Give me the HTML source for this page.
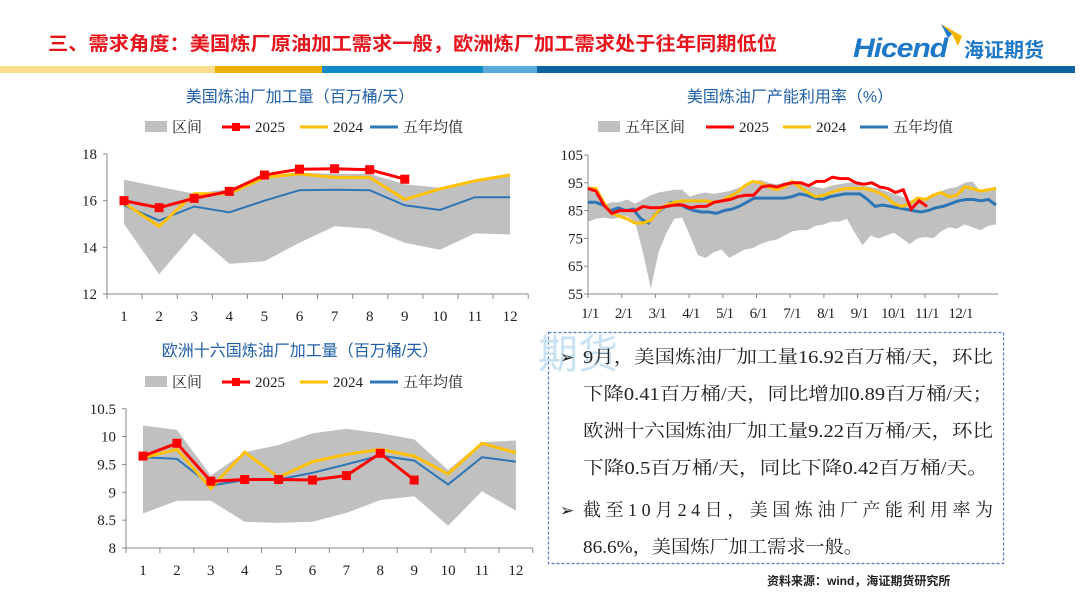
<!DOCTYPE html>
<html><head><meta charset="utf-8"><style>
html,body{margin:0;padding:0;background:#fff;}
body{width:1080px;height:607px;overflow:hidden;position:relative;font-family:"Liberation Serif","Noto Serif CJK SC",serif;}
svg text{font-family:"Liberation Serif","Noto Serif CJK SC",serif;}
.t{font-family:"Liberation Sans","Noto Sans CJK SC",sans-serif;}
</style></head><body>
<svg id="s" width="1080" height="607" xmlns="http://www.w3.org/2000/svg">
<text x="48" y="50" class="t" font-size="19" font-weight="bold" fill="#e8141c" textLength="729" lengthAdjust="spacingAndGlyphs">三、需求角度：美国炼厂原油加工需求一般，欧洲炼厂加工需求处于往年同期低位</text>
<rect x="0" y="66" width="215" height="7" fill="#fadc8c"/>
<rect x="215" y="66" width="107" height="7" fill="#f0b000"/>
<rect x="322" y="66" width="161" height="7" fill="#0f8cc8"/>
<rect x="483" y="66" width="54" height="7" fill="#5aaadc"/>
<rect x="537" y="66" width="538" height="7" fill="#0a64a0"/>
<polygon points="941,24 962,36 958,46 952,34" fill="#f5b400"/>
<polygon points="941,24 952,34 948,38" fill="#1e78c8"/>
<text x="853" y="57" class="t" font-size="27" font-weight="bold" font-style="italic" fill="#1e78c8" letter-spacing="-1" textLength="94" lengthAdjust="spacingAndGlyphs">Hicend</text>
<text x="964" y="57" class="t" font-size="20" font-weight="bold" fill="#1e78c8">海证期货</text>
<g id="g"></g>
<rect x="548.5" y="332.5" width="455" height="231" fill="none" stroke="#4a7cc8" stroke-width="1.2" stroke-dasharray="3,2"/>
<text x="538" y="368" class="t" font-size="40" fill="#c8e2f4">期货</text>
<g class="t" font-size="18" fill="#222">
<text x="560" y="363" font-size="17">➢</text>
<text x="583" y="363" textLength="410" lengthAdjust="spacingAndGlyphs">9月，美国炼油厂加工量16.92百万桶/天，环比</text>
<text x="583" y="400" textLength="410" lengthAdjust="spacingAndGlyphs">下降0.41百万桶/天，同比增加0.89百万桶/天；</text>
<text x="583" y="437" textLength="410" lengthAdjust="spacingAndGlyphs">欧洲十六国炼油厂加工量9.22百万桶/天，环比</text>
<text x="583" y="474" textLength="405" lengthAdjust="spacingAndGlyphs">下降0.5百万桶/天，同比下降0.42百万桶/天。</text>
<text x="560" y="516" font-size="17">➢</text>
<text x="583" y="516" textLength="410">截至10月24日，美国炼油厂产能利用率为</text>
<text x="583" y="553" textLength="280" lengthAdjust="spacingAndGlyphs">86.6%，美国炼厂加工需求一般。</text>
</g>
<text x="767" y="585" class="t" font-size="12" font-weight="bold" fill="#222">资料来源：wind，海证期货研究所</text>
</svg>
<script>
var g=document.getElementById('g'),h='';
function P(a){return a.map(function(p){return p[0].toFixed(1)+','+p[1].toFixed(1)}).join(' ');}
function legend(x,y,labels){var o='';var xs=labels.x;
o+='<rect x="'+xs[0]+'" y="'+(y-6)+'" width="22" height="11" fill="#c0c0c0"/><text x="'+(xs[0]+27)+'" y="'+(y+5)+'" font-size="15" fill="#222">'+labels.t[0]+'</text>';
o+='<line x1="'+xs[1]+'" x2="'+(xs[1]+28)+'" y1="'+y+'" y2="'+y+'" stroke="#f00" stroke-width="3"/><rect x="'+(xs[1]+10)+'" y="'+(y-4)+'" width="8" height="8" fill="#f00"/><text x="'+(xs[1]+33)+'" y="'+(y+5)+'" font-size="15" fill="#222">2025</text>';
o+='<line x1="'+xs[2]+'" x2="'+(xs[2]+28)+'" y1="'+y+'" y2="'+y+'" stroke="#ffc000" stroke-width="3"/><text x="'+(xs[2]+33)+'" y="'+(y+5)+'" font-size="15" fill="#222">2024</text>';
o+='<line x1="'+xs[3]+'" x2="'+(xs[3]+28)+'" y1="'+y+'" y2="'+y+'" stroke="#2e75b6" stroke-width="3"/><text x="'+(xs[3]+33)+'" y="'+(y+5)+'" font-size="15" fill="#222">五年均值</text>';
return o;}
function monthly(c){var o='';
var X=function(i){return c.x0+i*c.dx};var Y=function(v){return c.y0-(v-c.vmin)*c.k};
var band=c.up.map(function(v,i){return [X(i),Y(v)]}).concat(c.lo.map(function(v,i){return [X(i),Y(v)]}).reverse());
o+='<polygon points="'+P(band)+'" fill="#c0c0c0"/>';
o+='<line x1="'+c.ax+'" x2="'+c.ax+'" y1="'+Y(c.vmax)+'" y2="'+c.y0+'" stroke="#888"/>';
o+='<line x1="'+c.ax+'" x2="'+(c.ax+12*c.dx)+'" y1="'+c.y0+'" y2="'+c.y0+'" stroke="#888"/>';
for(var i=0;i<=12;i++)o+='<line x1="'+(c.ax+i*c.dx)+'" x2="'+(c.ax+i*c.dx)+'" y1="'+c.y0+'" y2="'+(c.y0+5)+'" stroke="#888"/>';
for(var i=0;i<12;i++)o+='<text x="'+X(i)+'" y="'+(c.y0+27)+'" font-size="15" text-anchor="middle" fill="#222">'+(i+1)+'</text>';
c.ticks.forEach(function(t){o+='<line x1="'+(c.ax-4)+'" x2="'+c.ax+'" y1="'+Y(t[0])+'" y2="'+Y(t[0])+'" stroke="#888"/><text x="'+(c.ax-10)+'" y="'+(Y(t[0])+5)+'" font-size="15" text-anchor="end" fill="#222">'+t[1]+'</text>'});
o+='<polyline points="'+P(c.avg.map(function(v,i){return [X(i),Y(v)]}))+'" fill="none" stroke="#2e75b6" stroke-width="2"/>';
o+='<polyline points="'+P(c.y24.map(function(v,i){return [X(i),Y(v)]}))+'" fill="none" stroke="#ffc000" stroke-width="3"/>';
o+='<polyline points="'+P(c.y25.map(function(v,i){return [X(i),Y(v)]}))+'" fill="none" stroke="#f00" stroke-width="3"/>';
c.y25.forEach(function(v,i){o+='<rect x="'+(X(i)-4.5)+'" y="'+(Y(v)-4.5)+'" width="9" height="9" fill="#f00"/>'});
return o;}
h+='<text x="300" y="102" text-anchor="middle" font-size="16" fill="#1f5fa8" class="t">美国炼油厂加工量（百万桶/天）</text>';
h+=legend(0,127,{x:[145,222,300,370],t:['区间']});
h+=monthly({x0:124,dx:35.1,ax:107,y0:294,vmin:12,vmax:18,k:23.33,ticks:[[12,'12'],[14,'14'],[16,'16'],[18,'18']],
up:[16.9,16.6,16.3,16.5,17.0,17.2,17.15,17.15,16.7,16.55,16.9,17.1],
lo:[15.0,12.85,14.6,13.3,13.4,14.2,14.9,14.8,14.2,13.9,14.6,14.55],
y25:[16.0,15.7,16.1,16.4,17.1,17.35,17.37,17.33,16.92],
y24:[15.9,14.9,16.3,16.3,17.0,17.15,17.0,17.0,16.05,16.5,16.85,17.1],
avg:[15.8,15.15,15.75,15.5,16.0,16.45,16.47,16.45,15.8,15.6,16.15,16.15]});
h+='<text x="300" y="356" text-anchor="middle" font-size="16" fill="#1f5fa8" class="t">欧洲十六国炼油厂加工量（百万桶/天）</text>';
h+=legend(0,382,{x:[145,222,300,370],t:['区间']});
h+=monthly({x0:143,dx:33.9,ax:126,y0:548,vmin:8,vmax:10.5,k:55.7,ticks:[[8,'8'],[8.5,'8.5'],[9,'9'],[9.5,'9.5'],[10,'10'],[10.5,'10.5']],
up:[10.2,10.12,9.3,9.72,9.85,10.06,10.14,10.06,9.95,9.4,9.9,9.93],
lo:[8.62,8.85,8.85,8.47,8.45,8.47,8.63,8.86,8.93,8.4,9.02,8.67],
y25:[9.65,9.88,9.2,9.23,9.23,9.22,9.3,9.7,9.22],
y24:[9.62,9.77,9.07,9.72,9.27,9.55,9.68,9.77,9.65,9.33,9.88,9.71],
avg:[9.63,9.6,9.12,9.22,9.23,9.35,9.5,9.66,9.57,9.14,9.63,9.55]});
(function(){var o='';var ax=588,aw=410,y0=294,k=2.78;
var Y=function(v){return y0-(v-55)*k};
function ser(a,x1,x2){return a.map(function(v,i){return [x1+(x2-x1)*i/(a.length-1),Y(v)]})}
var up=[93,91,87,88,88,89,87.5,89,90.5,91.5,92,92.5,92.5,90,91,91.5,91,91.5,92,93,94,95.5,96,95,94.5,95,95.5,95,94,93.5,93,94,94.5,95,95,94,93.5,93,92,91,90,88.5,89,89.5,90.5,92,93,93.5,95,95.5,92,93,93.5];
var lo=[81,82,82.5,82,82.5,83,81,70,57,70,77,82,82.5,76,69,68,70,71,68,69.5,71,71.5,73,74,74.5,76,77.5,78,78,79.5,80,81,81,82,77,72.5,76,75,76,77,75,73,75,75.5,75,77.5,79,78.5,80,79,78,79.5,80];
var band=ser(up,ax,996).concat(ser(lo,ax,996).reverse());
o+='<polygon points="'+P(band)+'" fill="#c0c0c0"/>';
o+='<line x1="'+ax+'" x2="'+ax+'" y1="'+Y(105)+'" y2="'+y0+'" stroke="#888"/><line x1="'+ax+'" x2="'+(ax+aw)+'" y1="'+y0+'" y2="'+y0+'" stroke="#888"/>';
[55,65,75,85,95,105].forEach(function(t){o+='<line x1="'+(ax-4)+'" x2="'+ax+'" y1="'+Y(t)+'" y2="'+Y(t)+'" stroke="#888"/><text x="'+(ax-5)+'" y="'+(Y(t)+5)+'" font-size="15" text-anchor="end" fill="#222">'+t+'</text>'});
var lab=['1/1','2/1','3/1','4/1','5/1','6/1','7/1','8/1','9/1','10/1','11/1','12/1'];
lab.forEach(function(l,i){var x=590+i*33.7;o+='<line x1="'+(x-2)+'" x2="'+(x-2)+'" y1="'+y0+'" y2="'+(y0+4)+'" stroke="#888"/><text x="'+x+'" y="'+(y0+24)+'" font-size="15" text-anchor="middle" fill="#222" letter-spacing="-0.5">'+l+'</text>'});
var avg=[88,88,87,85,86,85,85.5,82,80.5,84,86,88,87.5,86,85,84.5,84.5,84,85,85.5,86.5,88,89.5,89.5,89.5,89.5,89.5,90,91,90.5,89.5,89,90,90.5,91,91,91,89,86.5,87,86.5,86,85.5,85,84.5,85,86,86.5,87.5,88.5,89,89,88.5,89,87];
var y24=[93,93,88,84,83,82,80.5,80.5,81.5,85,87,88,88.5,88.5,88.5,88.5,88,88.5,90,91.5,94,95.5,95,93.5,92.5,93.5,95.5,93.5,91.5,90,90.5,91.5,92.5,93,93,93,92.5,91.5,90,87.5,86.5,87.5,89.5,89,90.5,91.5,90,90.5,93.5,93,92,92.5,93];
var y25=[93,92,87,84,85,85,85,86.5,86,86,86.5,87,87,86,86.5,86.5,88,88.5,89,90,90.5,90.5,93.5,94,93.5,94.5,95,95,94,95.5,95.5,97,96.5,96.5,95,94.5,95,93.5,93,91.5,92.5,85.5,88.5,86.5];
o+='<polyline points="'+P(ser(avg,ax,996))+'" fill="none" stroke="#2e75b6" stroke-width="3"/>';
o+='<polyline points="'+P(ser(y24,ax,996))+'" fill="none" stroke="#ffc000" stroke-width="3"/>';
o+='<polyline points="'+P(ser(y25,ax,927))+'" fill="none" stroke="#f00" stroke-width="3"/>';
o+='<text x="790" y="102" text-anchor="middle" font-size="16" fill="#1f5fa8" class="t">美国炼油厂产能利用率（%）</text>';
o+='<rect x="598" y="121" width="22" height="11" fill="#c0c0c0"/><text x="625" y="132" font-size="15" fill="#222">五年区间</text>';
o+='<line x1="706" x2="734" y1="127" y2="127" stroke="#f00" stroke-width="3"/><text x="739" y="132" font-size="15" fill="#222">2025</text>';
o+='<line x1="783" x2="811" y1="127" y2="127" stroke="#ffc000" stroke-width="3"/><text x="816" y="132" font-size="15" fill="#222">2024</text>';
o+='<line x1="860" x2="888" y1="127" y2="127" stroke="#2e75b6" stroke-width="3"/><text x="893" y="132" font-size="15" fill="#222">五年均值</text>';
h+=o;})();
g.innerHTML=h;
</script>
</body></html>
